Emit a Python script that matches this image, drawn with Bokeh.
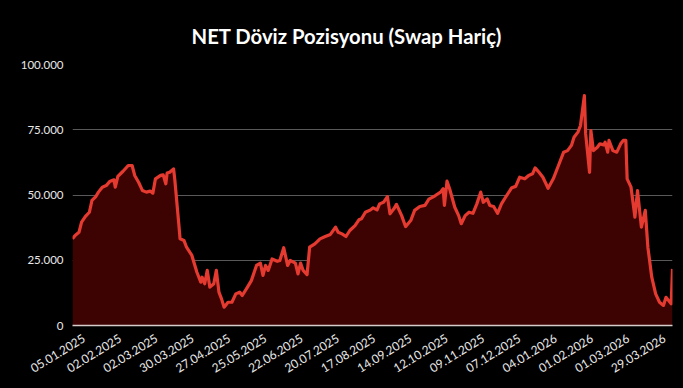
import math
import pandas as pd
from bokeh.plotting import figure
from bokeh.models import FixedTicker, DatetimeTickFormatter, Range1d, ColumnDataSource
from bokeh.embed import file_html
from bokeh.resources import INLINE

# ---- data ----
dates = [
    "27.12.2024", "29.12.2024", "01.01.2025", "03.01.2025", "06.01.2025", "09.01.2025",
    "11.01.2025", "14.01.2025", "16.01.2025", "19.01.2025", "22.01.2025", "25.01.2025",
    "28.01.2025", "29.01.2025", "31.01.2025", "04.02.2025", "08.02.2025", "11.02.2025",
    "13.02.2025", "16.02.2025", "19.02.2025", "22.02.2025", "25.02.2025", "27.02.2025",
    "01.03.2025", "05.03.2025", "07.03.2025", "09.03.2025", "10.03.2025", "12.03.2025",
    "15.03.2025", "16.03.2025", "19.03.2025", "20.03.2025", "23.03.2025", "25.03.2025",
    "29.03.2025", "02.04.2025", "05.04.2025", "06.04.2025", "08.04.2025", "10.04.2025",
    "12.04.2025", "15.04.2025", "17.04.2025", "19.04.2025", "21.04.2025", "23.04.2025",
    "26.04.2025", "29.04.2025", "02.05.2025", "05.05.2025", "07.05.2025", "11.05.2025",
    "14.05.2025", "18.05.2025", "21.05.2025", "23.05.2025", "25.05.2025", "27.05.2025",
    "30.05.2025", "03.06.2025", "05.06.2025", "08.06.2025", "11.06.2025", "13.06.2025",
    "17.06.2025", "19.06.2025", "21.06.2025", "23.06.2025", "26.06.2025", "28.06.2025",
    "02.07.2025", "06.07.2025", "10.07.2025", "14.07.2025", "18.07.2025", "20.07.2025",
    "23.07.2025", "26.07.2025", "29.07.2025", "02.08.2025", "05.08.2025", "07.08.2025",
    "10.08.2025", "14.08.2025", "16.08.2025", "19.08.2025", "21.08.2025", "24.08.2025",
    "27.08.2025", "29.08.2025", "01.09.2025", "03.09.2025", "07.09.2025", "10.09.2025",
    "14.09.2025", "17.09.2025", "21.09.2025", "25.09.2025", "28.09.2025", "01.10.2025",
    "03.10.2025", "07.10.2025", "09.10.2025", "10.10.2025", "12.10.2025", "14.10.2025",
    "18.10.2025", "21.10.2025", "23.10.2025", "26.10.2025", "29.10.2025", "01.11.2025",
    "04.11.2025", "07.11.2025", "09.11.2025", "12.11.2025", "14.11.2025", "17.11.2025",
    "20.11.2025", "23.11.2025", "27.11.2025", "01.12.2025", "04.12.2025", "07.12.2025",
    "11.12.2025", "14.12.2025", "17.12.2025", "19.12.2025", "22.12.2025", "25.12.2025",
    "29.12.2025", "02.01.2026", "06.01.2026", "10.01.2026", "13.01.2026", "16.01.2026",
    "18.01.2026", "21.01.2026", "23.01.2026", "26.01.2026", "27.01.2026", "30.01.2026",
    "31.01.2026", "02.02.2026", "05.02.2026", "07.02.2026", "10.02.2026", "11.02.2026",
    "13.02.2026", "14.02.2026", "17.02.2026", "20.02.2026", "23.02.2026", "25.02.2026",
    "27.02.2026", "28.02.2026", "03.03.2026", "06.03.2026", "08.03.2026", "11.03.2026",
    "14.03.2026", "16.03.2026", "19.03.2026", "22.03.2026", "25.03.2026", "28.03.2026",
    "30.03.2026", "01.04.2026", "03.04.2026", "04.04.2026",
]
values = [
    33200, 34500, 35700, 39600, 41800, 43400,
    47900, 49400, 51100, 53000, 53600, 55300,
    55800, 53000, 57100, 59100, 61300, 61300,
    57500, 54900, 51700, 51100, 51500, 50700,
    56200, 57500, 57700, 54300, 58400, 58700,
    60000, 55600, 39000, 33200, 32600, 30000,
    27000, 20400, 16600, 18500, 16000, 21100,
    14700, 16000, 21100, 12800, 10200, 7000,
    8900, 8900, 12100, 12800, 11500, 14700,
    17200, 23000, 23900, 19200, 23000, 21100,
    25500, 24600, 24900, 29800, 23000, 24900,
    23900, 19800, 23900, 21100, 19500, 30000,
    31300, 33200, 34100, 34900, 37700, 35700,
    35100, 34100, 36400, 38300, 40500, 40900,
    43400, 44300, 45100, 44300, 46600, 47200,
    49400, 42800, 44700, 46400, 42100, 37900,
    40200, 44100, 45600, 46000, 48400, 49200,
    49800, 51100, 52400, 46000, 55300, 52400,
    45300, 42100, 39000, 42100, 43400, 43000,
    46600, 51100, 47200, 48500, 46000, 45600,
    43000, 46600, 49800, 52800, 53300, 56800,
    56200, 57500, 58100, 60400, 58700, 56800,
    52600, 56200, 61300, 66400, 67000, 69000,
    72100, 74100, 76600, 88100, 73400, 58700,
    74700, 67000, 68300, 69600, 69200, 70200,
    66400, 70900, 67000, 66400, 69600, 70900,
    70900, 56200, 53000, 41500, 51700, 37700,
    44100, 30000, 18500, 12100, 8900, 7700,
    10800, 9600, 8300, 21700,
]
x_tick_labels = [
    "05.01.2025", "02.02.2025", "02.03.2025", "30.03.2025", "27.04.2025", "25.05.2025",
    "22.06.2025", "20.07.2025", "17.08.2025", "14.09.2025", "12.10.2025", "09.11.2025",
    "07.12.2025", "04.01.2026", "01.02.2026", "01.03.2026", "29.03.2026",
]
y_ticks = [0, 25000, 50000, 75000, 100000]
y_tick_labels = ["0", "25.000", "50.000", "75.000", "100.000"]
title_text = "NET Döviz Pozisyonu (Swap Hariç)"
x_first = "27.12.2024"
x_last = "04.04.2026"

# ---- build ----
df = pd.DataFrame({"date": pd.to_datetime(dates, format="%d.%m.%Y"), "value": values})
src = ColumnDataSource(df)

x0 = pd.to_datetime(x_first, format="%d.%m.%Y")
x1 = pd.to_datetime(x_last, format="%d.%m.%Y")

p = figure(
    width=683, height=388,
    x_axis_type="datetime",
    x_range=Range1d(x0, x1), y_range=Range1d(0, 100000),
    output_backend="svg", toolbar_location=None,
    min_border_left=72, min_border_right=11, min_border_top=64, min_border_bottom=63,
    background_fill_color="#000000", border_fill_color="#000000",
    outline_line_color=None,
)

p.varea(x="date", y1=0, y2="value", source=src, fill_color="#3d0303")
p.line(x="date", y="value", source=src, line_color="#e53a30", line_width=3.2,
       line_join="round")

# title
p.title.text = title_text
p.title.align = "left"
p.title.offset = 119
p.title.text_font = "Lato"
p.title.text_font_style = "bold"
p.title.text_font_size = "20.3px"
p.title.text_color = "#ffffff"
p.title.standoff = 33

# x axis
tick_ms = [t.value / 1e6 for t in pd.to_datetime(x_tick_labels, format="%d.%m.%Y")]
p.xaxis.ticker = FixedTicker(ticks=tick_ms)
fmt = "%d.%m.%Y"
p.xaxis.formatter = DatetimeTickFormatter(
    microseconds=fmt, milliseconds=fmt, seconds=fmt, minsec=fmt, minutes=fmt,
    hourmin=fmt, hours=fmt, days=fmt, months=fmt, years=fmt,
    strip_leading_zeros=False,
)
p.xaxis.major_label_orientation = 0.55
p.xaxis.major_label_text_font = "Lato"
p.xaxis.major_label_text_font_size = "12px"
p.xaxis.major_label_text_color = "#e8e8e8"
p.xaxis.major_label_standoff = 12
p.xaxis.axis_line_color = "#d6cccc"
p.xaxis.axis_line_width = 1.5
p.xaxis.major_tick_line_color = None
p.xaxis.minor_tick_line_color = None
p.xaxis.major_tick_out = 0
p.xaxis.major_tick_in = 0

# y axis
p.yaxis.ticker = FixedTicker(ticks=y_ticks)
p.yaxis.major_label_overrides = {t: lab for t, lab in zip(y_ticks, y_tick_labels)}
p.yaxis.major_label_text_font = "Lato"
p.yaxis.major_label_text_font_size = "11.5px"
p.yaxis.major_label_text_color = "#e8e8e8"
p.yaxis.major_label_standoff = 9
p.yaxis.axis_line_color = None
p.yaxis.major_tick_line_color = None
p.yaxis.minor_tick_line_color = None
p.yaxis.major_tick_out = 0
p.yaxis.major_tick_in = 0

# grid
p.xgrid.visible = False
p.ygrid.ticker = FixedTicker(ticks=y_ticks)
p.ygrid.grid_line_color = "#595959"
p.ygrid.grid_line_width = 1

template = """{% block postamble %}<style>body{background:#000000;}</style>{% endblock %}"""
html = file_html(p, INLINE, template=template)
open("out.html", "w").write(html)
